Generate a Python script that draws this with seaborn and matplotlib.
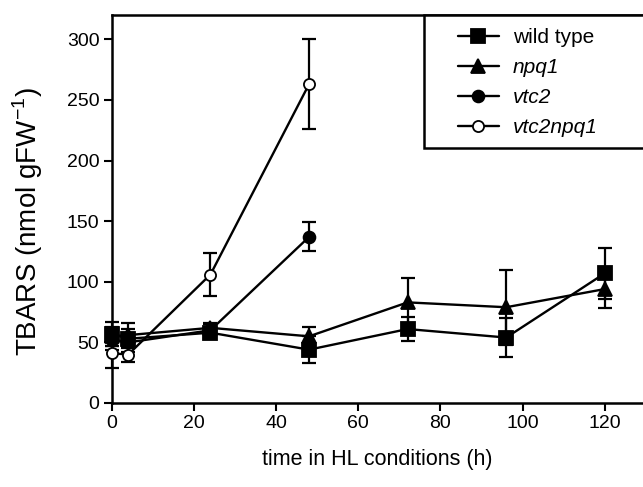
import matplotlib
matplotlib.use("Agg")
import matplotlib.pyplot as plt
from matplotlib.patches import Rectangle
import seaborn as sns
import pandas as pd

sns.set_style("ticks")
plt.rcParams['font.family'] = ['Liberation Sans', 'DejaVu Sans']
plt.rcParams['mathtext.fontset'] = 'custom'
plt.rcParams['mathtext.rm'] = 'Liberation Sans'
for k in ['text.color', 'axes.labelcolor', 'xtick.color', 'ytick.color', 'axes.edgecolor']:
    plt.rcParams[k] = 'black'

# data
wt_x = [0, 4, 24, 48, 72, 96, 120]
wt_y = [57, 53, 58, 44, 61, 54, 107]
wt_e = [10, 8, 5, 11, 10, 16, 21]

npq1_x = [0, 4, 24, 48, 72, 96, 120]
npq1_y = [55, 56, 62, 55, 83, 79, 94]
npq1_e = [8, 10, 4, 8, 20, 31, 16]

vtc2_x = [0, 4, 24, 48]
vtc2_y = [52, 50, 60, 137]
vtc2_e = [8, 8, 5, 12]

vn_x = [0, 4, 24, 48]
vn_y = [41, 40, 106, 263]
vn_e = [12, 6, 18, 37]

series = [
    ("wild type", wt_x, wt_y, wt_e, "s", 9.5, "black"),
    ("npq1", npq1_x, npq1_y, npq1_e, "^", 10, "black"),
    ("vtc2", vtc2_x, vtc2_y, vtc2_e, "o", 8.5, "black"),
    ("vtc2npq1", vn_x, vn_y, vn_e, "o", 8, "white"),
]

fig = plt.figure(figsize=(6.43, 4.87), dpi=100)
ax = fig.add_axes([0.174, 0.1725, 0.826, 0.7965])

for i, (name, xs, ys, es, mk, ms, fc) in enumerate(series):
    df = pd.DataFrame({"x": xs, "y": ys})
    ax.errorbar(xs, ys, yerr=es, fmt="none", ecolor="black", elinewidth=1.6,
                capsize=5, capthick=1.6, zorder=2 + i, clip_on=False)
    sns.lineplot(data=df, x="x", y="y", ax=ax, color="black", linewidth=1.7,
                 marker=mk, markersize=ms, markerfacecolor=fc,
                 markeredgecolor="black", markeredgewidth=1.3,
                 label=name, zorder=3 + i, clip_on=False)

ax.set_xlim(0, 129.3)
ax.set_ylim(0, 320)
ax.set_xticks([0, 20, 40, 60, 80, 100, 120])
ax.set_yticks([0, 50, 100, 150, 200, 250, 300])
ax.tick_params(axis="both", direction="out", length=6, width=1.5,
               labelsize=14, colors="black", pad=3)
for s in ["left", "bottom", "top"]:
    ax.spines[s].set_linewidth(1.8)
    ax.spines[s].set_color("black")
ax.spines["right"].set_visible(False)

ax_w = 0.826 * 643
ax_h = 0.7965 * 487

ax.set_xlabel("time in HL conditions (h)", fontsize=15.5, labelpad=12)
ax.set_ylabel("TBARS (nmol gFW$^{-1}$)", fontsize=20)
ax.yaxis.label.set_va("center")
ax.yaxis.set_label_coords((28 - 112) / ax_w, (403 - 222) / ax_h)

# legend box (frame drawn separately to match the asymmetric padding)
x0 = (424 - 112) / ax_w
y0 = (403 - 148) / ax_h
ax.add_patch(Rectangle((x0, y0), 1.2 - x0, 1.0 - y0, transform=ax.transAxes,
                       facecolor="white", edgecolor="black", linewidth=1.8,
                       clip_on=False, zorder=10))

leg = ax.legend(loc="upper left", bbox_to_anchor=((458 - 112) / ax_w, (403 - 28) / ax_h),
                borderaxespad=0, borderpad=0, frameon=False, fontsize=15,
                handlelength=1.95, handletextpad=0.7, labelspacing=0.53)
leg.set_zorder(11)
for t in leg.get_texts():
    if t.get_text() != "wild type":
        t.set_style("italic")

fig.savefig("out.png", dpi=100)
